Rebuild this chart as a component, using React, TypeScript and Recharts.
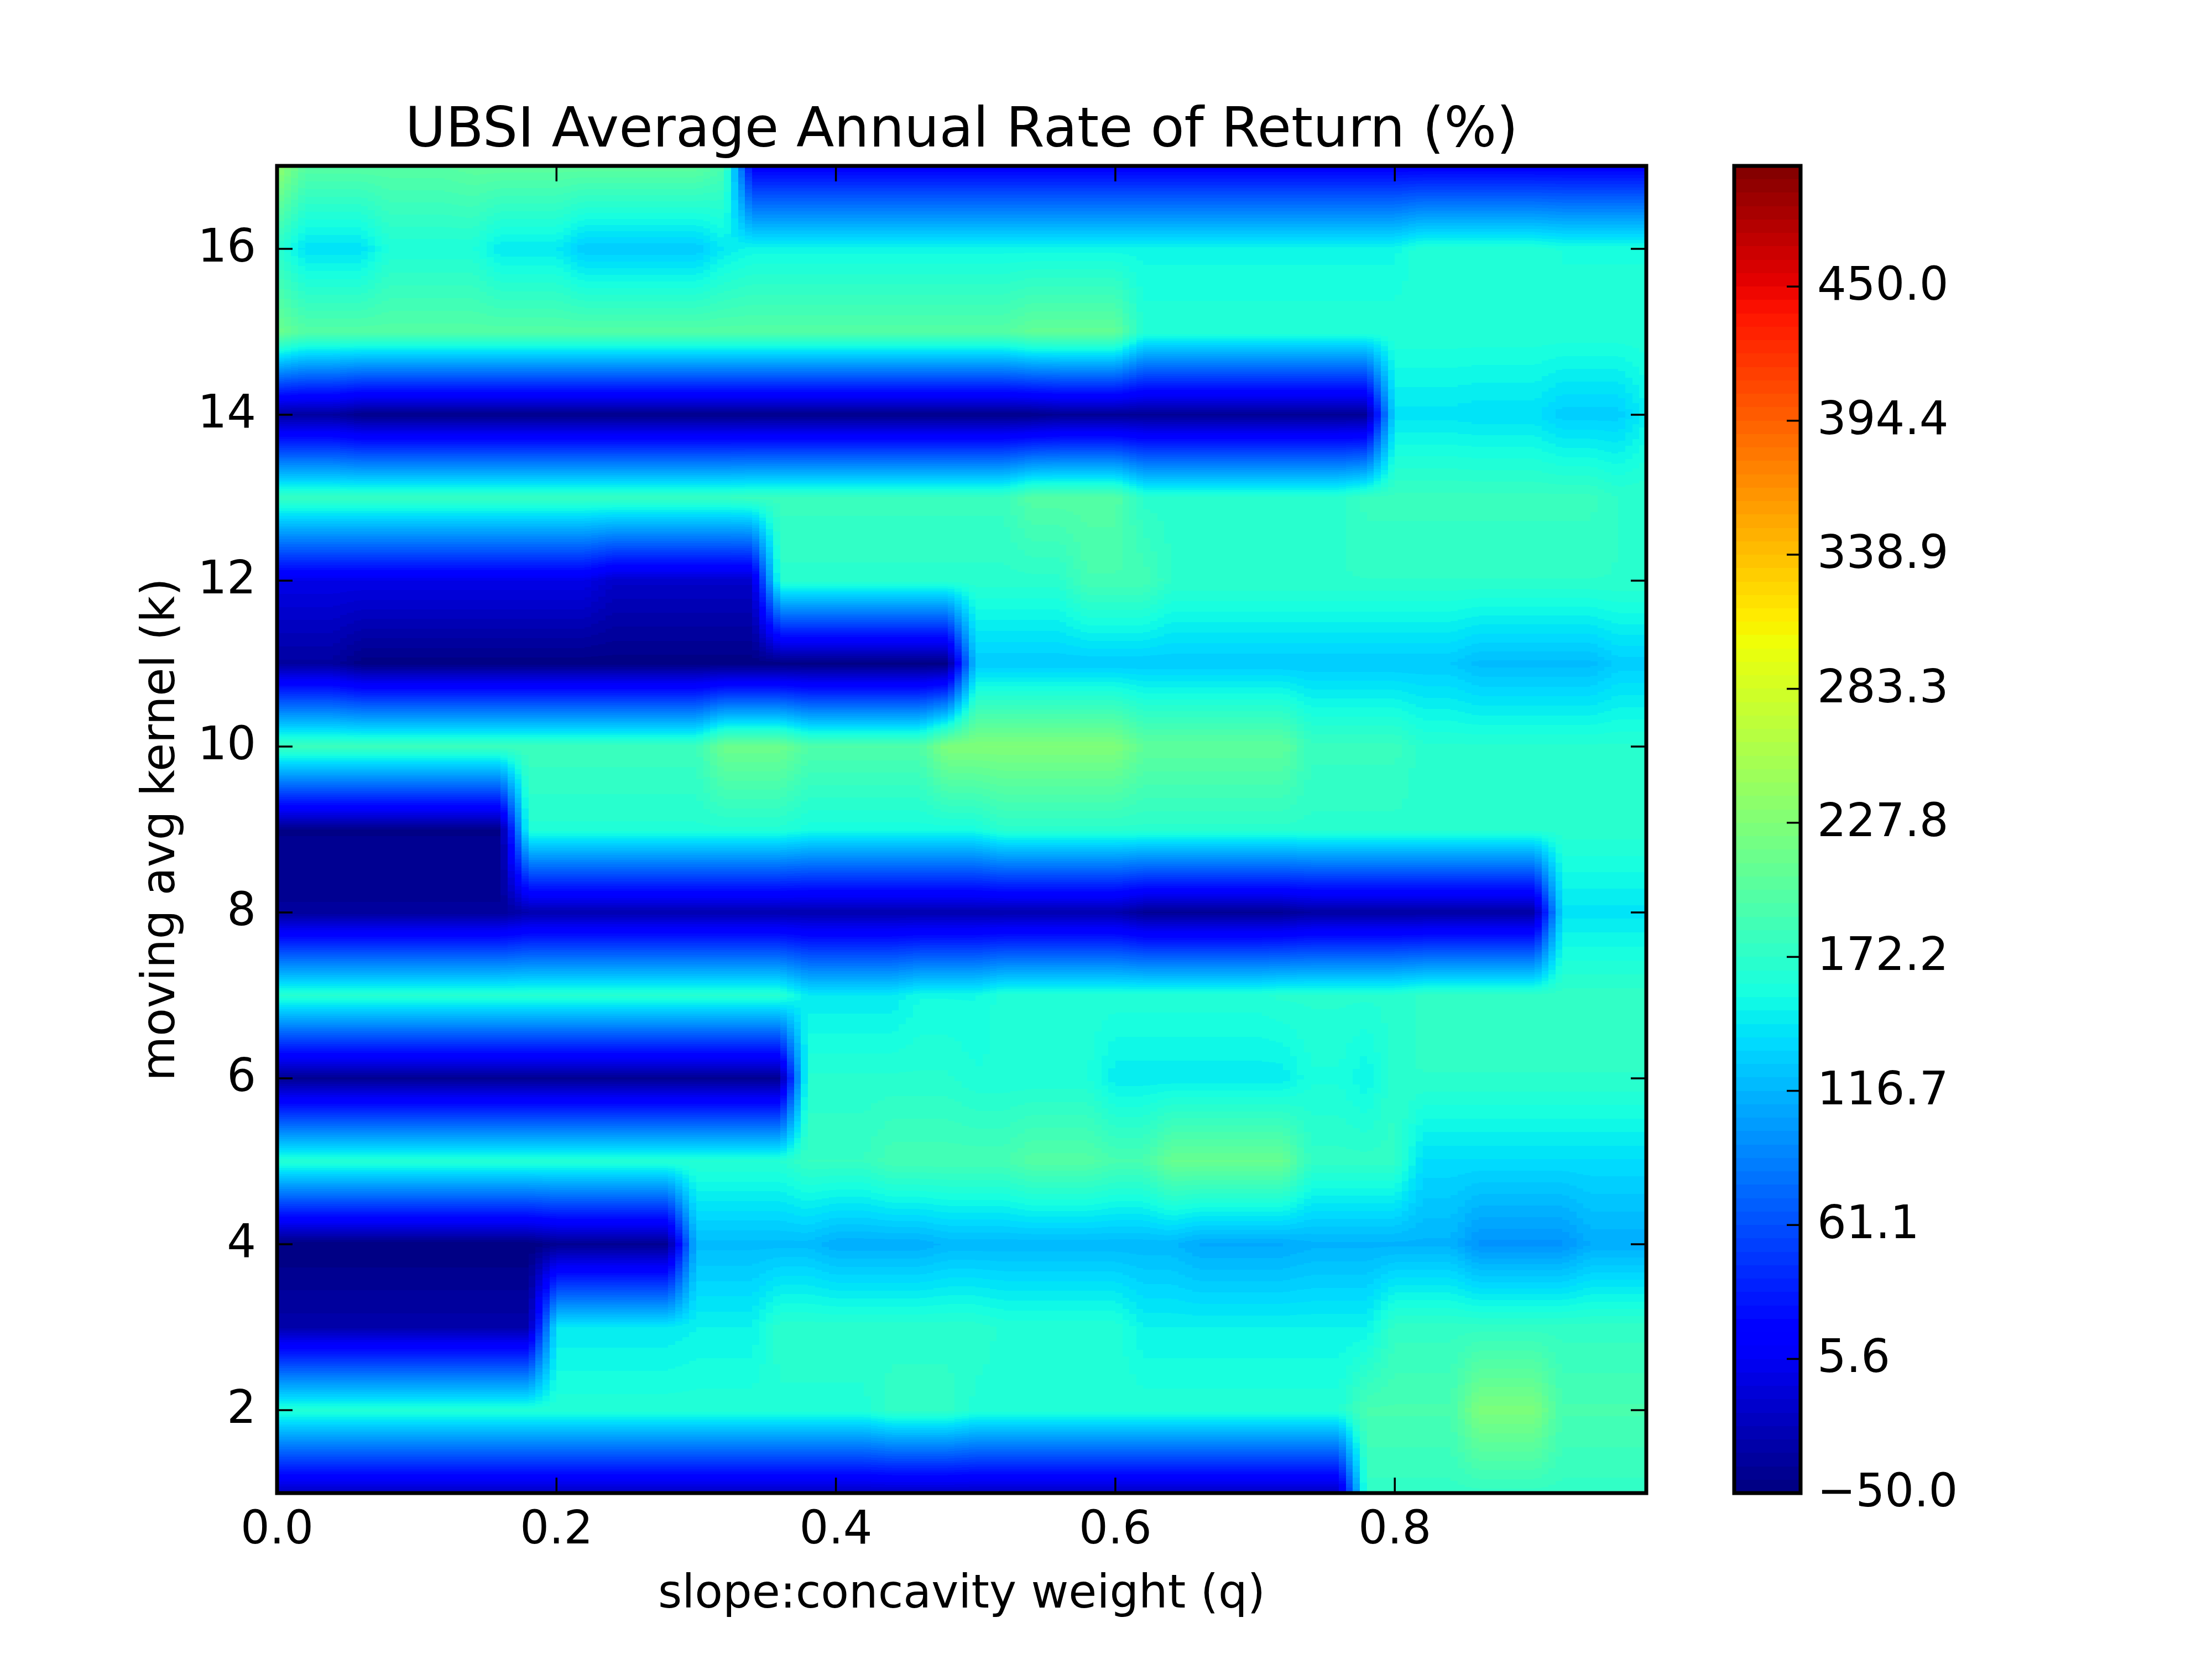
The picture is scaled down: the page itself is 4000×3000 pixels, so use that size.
import React from 'react';
import { ComposedChart, XAxis, YAxis, ReferenceArea } from 'recharts';

// ---------- data ----------
const qTicks = [0, 0.2, 0.4, 0.6, 0.8];
const qTickLabels = ['0.0', '0.2', '0.4', '0.6', '0.8'];
const kTicks = [2, 4, 6, 8, 10, 12, 14, 16];
const kTickLabels = ['2', '4', '6', '8', '10', '12', '14', '16'];
const kValues = [1, 2, 3, 4, 5, 6, 7, 8, 9, 10, 11, 12, 13, 14, 15, 16, 17];
const cbTicks = [-50, 5.6, 61.1, 116.7, 172.2, 227.8, 283.3, 338.9, 394.4, 450.0];
const cbTickLabels = ['\u221250.0', '5.6', '61.1', '116.7', '172.2', '227.8', '283.3', '338.9', '394.4', '450.0'];

// each row (k): [q up to which the value holds, annual return %]
type Seg = [number, number];
const row1: Seg[] = [[0.77, -20], [0.98, 175]];
const row2: Seg[] = [[0.43, 165], [0.49, 175], [0.77, 165], [0.85, 190], [0.91, 225], [0.98, 190]];
const row3: Seg[] = [[0.19, -30], [0.29, 145], [0.35, 150], [0.51, 170], [0.61, 165], [0.79, 150], [0.98, 175]];
const row4: Seg[] = [[0.19, -50], [0.29, -42], [0.39, 120], [0.47, 112], [0.65, 118], [0.73, 110], [0.85, 115], [0.93, 98], [0.98, 112]];
const row5: Seg[] = [[0.37, 167], [0.43, 178], [0.53, 188], [0.59, 198], [0.63, 190], [0.73, 212], [0.81, 175], [0.98, 138]];
const row6: Seg[] = [[0.37, -42], [0.49, 168], [0.59, 162], [0.73, 146], [0.77, 160], [0.79, 150], [0.98, 172]];
const row7: Seg[] = [[0.37, 168], [0.45, 145], [0.51, 155], [0.71, 165], [0.81, 168], [0.98, 175]];
const row8: Seg[] = [[0.17, -38], [0.61, -28], [0.73, -40], [0.91, -34], [0.98, 142]];
const row9: Seg[] = [[0.17, -45], [0.37, 165], [0.51, 158], [0.98, 170]];
const row10: Seg[] = [[0.31, 182], [0.37, 215], [0.47, 195], [0.61, 228], [0.73, 205], [0.81, 180], [0.98, 168]];
const row11: Seg[] = [[0.05, -35], [0.49, -48], [0.85, 128], [0.95, 120], [0.98, 130]];
const row12: Seg[] = [[0.23, 0], [0.35, -15], [0.57, 170], [0.63, 188], [0.98, 172]];
const row13: Seg[] = [[0.33, 178], [0.53, 180], [0.61, 198], [0.77, 170], [0.95, 180], [0.98, 172]];
const row14: Seg[] = [[0.05, -35], [0.55, -45], [0.79, -40], [0.85, 142], [0.91, 140], [0.97, 130], [0.98, 148]];
const row15: Seg[] = [[0.01, 215], [0.53, 198], [0.61, 208], [0.98, 166]];
const row16: Seg[] = [[0.01, 170], [0.07, 140], [0.15, 162], [0.21, 145], [0.31, 128], [0.33, 145], [0.81, 153], [0.91, 165], [0.98, 160]];
const row17: Seg[] = [[0.01, 240], [0.13, 200], [0.31, 205], [0.33, 190], [0.98, 12]];
const rows: Seg[][] = [row1, row2, row3, row4, row5, row6, row7, row8, row9, row10, row11, row12, row13, row14, row15, row16, row17];

const Q_MIN = 0;
const Q_MAX = 0.98;
const Q_STEP = 0.02; // grid spacing of the q samples
const V_MIN = -50;
const V_MAX = 500;
const LEVEL_COUNT = 100;

// ---------- layout ----------
const W = 4000;
const H = 3000;
const FONT = "'DejaVu Sans', 'Bitstream Vera Sans', sans-serif";
const TICK_FONT = 83;
const TICK_LEN = 28;
const PLOT_L = 501;
const PLOT_R = 2977;
const PLOT_T = 300;
const PLOT_B = 2700;
const CB_L = 3136;
const CB_R = 3256;
const SUBDIV = 4;

// ---------- colormap (matplotlib jet) ----------
const JET_R: number[][] = [[0, 0], [0.35, 0], [0.66, 1], [0.89, 1], [1, 0.5]];
const JET_G: number[][] = [[0, 0], [0.125, 0], [0.375, 1], [0.64, 1], [0.91, 0], [1, 0]];
const JET_B: number[][] = [[0, 0.5], [0.11, 1], [0.34, 1], [0.65, 0], [1, 0]];
function chan(pts: number[][], t: number) {
  if (t <= pts[0][0]) return pts[0][1];
  for (let i = 1; i < pts.length; i++) {
    if (t <= pts[i][0]) {
      const [x0, y0] = pts[i - 1];
      const [x1, y1] = pts[i];
      return y0 + ((t - x0) / (x1 - x0)) * (y1 - y0);
    }
  }
  return pts[pts.length - 1][1];
}
function jet(t: number) {
  const c = (v: number) => Math.round(Math.max(0, Math.min(1, v)) * 255);
  return `rgb(${c(chan(JET_R, t))},${c(chan(JET_G, t))},${c(chan(JET_B, t))})`;
}
const LEVEL_STEP = (V_MAX - V_MIN) / (LEVEL_COUNT - 1);
const levels = Array.from({ length: LEVEL_COUNT }, (_, i) => V_MIN + i * LEVEL_STEP);
function bandIndex(v: number) {
  return Math.max(0, Math.min(LEVEL_COUNT - 2, Math.floor((v - V_MIN) / LEVEL_STEP)));
}
function bandColor(i: number) {
  return jet((i + 0.5) / (LEVEL_COUNT - 1));
}

function valueAt(row: Seg[], q: number) {
  for (const s of row) if (q <= s[0] + 1e-9) return s[1];
  return row[row.length - 1][1];
}

function gradientStops(vTop: number, vBot: number) {
  const stops: { o: number; c: string }[] = [];
  const bTop = bandIndex(vTop);
  const bBot = bandIndex(vBot);
  stops.push({ o: 0, c: bandColor(bTop) });
  if (bTop !== bBot) {
    const dir = bBot > bTop ? 1 : -1;
    let cur = bTop;
    while (cur !== bBot) {
      const boundary = dir > 0 ? levels[cur + 1] : levels[cur];
      const t = (boundary - vTop) / (vBot - vTop);
      stops.push({ o: t, c: bandColor(cur) });
      cur += dir;
      stops.push({ o: t, c: bandColor(cur) });
    }
  }
  stops.push({ o: 1, c: bandColor(bBot) });
  return stops;
}

// build drawing pieces between consecutive k rows (linear along q between grid samples)
type Piece = { q1: number; q2: number; k1: number; k2: number; grad: string };
const gradMap = new Map<string, { id: string; top: number; bot: number }>();
const pieces: Piece[] = [];
const nNodes = Math.round((Q_MAX - Q_MIN) / Q_STEP) + 1;
const qNodes = Array.from({ length: nNodes }, (_, i) => +(Q_MIN + i * Q_STEP).toFixed(4));
function gradFor(vt: number, vb: number) {
  const key = `${vt}|${vb}`;
  if (!gradMap.has(key)) gradMap.set(key, { id: `hg${gradMap.size}`, top: vt, bot: vb });
  return gradMap.get(key)!.id;
}
for (let i = 0; i < rows.length - 1; i++) {
  const lower = rows[i];
  const upper = rows[i + 1];
  let cur: Piece | null = null;
  let curKey = '';
  const push = (a: number, b: number, vt: number, vb: number) => {
    const key = `${vt}|${vb}`;
    if (cur && curKey === key && Math.abs(cur.q2 - a) < 1e-9) {
      cur.q2 = b;
      return;
    }
    if (cur) pieces.push(cur);
    cur = { q1: a, q2: b, k1: kValues[i], k2: kValues[i + 1], grad: gradFor(vt, vb) };
    curKey = key;
  };
  for (let j = 0; j < qNodes.length - 1; j++) {
    const a = qNodes[j];
    const b = qNodes[j + 1];
    const lb0 = valueAt(lower, a), lb1 = valueAt(lower, b);
    const ut0 = valueAt(upper, a), ut1 = valueAt(upper, b);
    if (lb0 === lb1 && ut0 === ut1) {
      push(a, b, ut0, lb0);
    } else {
      for (let s = 0; s < SUBDIV; s++) {
        const f = (s + 0.5) / SUBDIV;
        const vb = Math.round(lb0 + (lb1 - lb0) * f);
        const vt = Math.round(ut0 + (ut1 - ut0) * f);
        push(a + ((b - a) * s) / SUBDIV, a + ((b - a) * (s + 1)) / SUBDIV, vt, vb);
      }
    }
  }
  if (cur) pieces.push(cur);
}
const gradList = Array.from(gradMap.values());

// ---------- ticks ----------
const BottomTick = (props: any) => {
  const { x, y, payload } = props;
  const idx = qTicks.indexOf(payload.value);
  return (
    <g>
      <line x1={x} y1={y} x2={x} y2={y - TICK_LEN} stroke="#000" strokeWidth={3.5} />
      <text x={x} y={y + 91} textAnchor="middle" fontFamily={FONT} fontSize={TICK_FONT} fill="#000">
        {idx >= 0 ? qTickLabels[idx] : ''}
      </text>
    </g>
  );
};
const TopTick = (props: any) => {
  const { x, y } = props;
  return <line x1={x} y1={y} x2={x} y2={y + TICK_LEN} stroke="#000" strokeWidth={3.5} />;
};
const LeftTick = (props: any) => {
  const { x, y, payload } = props;
  const idx = kTicks.indexOf(payload.value);
  return (
    <g>
      <line x1={x} y1={y} x2={x + TICK_LEN} y2={y} stroke="#000" strokeWidth={3.5} />
      <text x={x - 38} y={y + 23} textAnchor="end" fontFamily={FONT} fontSize={TICK_FONT} fill="#000">
        {idx >= 0 ? kTickLabels[idx] : ''}
      </text>
    </g>
  );
};
const RightTick = (props: any) => {
  const { x, y } = props;
  return <line x1={x} y1={y} x2={x - TICK_LEN} y2={y} stroke="#000" strokeWidth={3.5} />;
};
const CbTick = (props: any) => {
  const { x, y, payload } = props;
  const idx = cbTicks.indexOf(payload.value);
  return (
    <g>
      <line x1={x} y1={y} x2={x - 25} y2={y} stroke="#000" strokeWidth={3.5} />
      <text x={x + 30} y={y + 24} textAnchor="start" fontFamily={FONT} fontSize={TICK_FONT} fill="#000">
        {idx >= 0 ? cbTickLabels[idx] : ''}
      </text>
    </g>
  );
};

export default function App() {
  const midX = (PLOT_L + PLOT_R) / 2;
  const midY = (PLOT_T + PLOT_B) / 2;
  return (
    <div style={{ position: 'absolute', left: 0, top: 0, width: W, height: H, background: '#fff' }}>
      <div style={{ position: 'absolute', left: 0, top: 0 }}>
        <ComposedChart
          width={W}
          height={H}
          data={[]}
          margin={{ top: PLOT_T - 100, right: W - PLOT_R - 100, bottom: H - PLOT_B - 300, left: 0 }}
        >
          <defs>
            {gradList.map((g) => (
              <linearGradient key={g.id} id={g.id} x1="0" y1="0" x2="0" y2="1">
                {gradientStops(g.top, g.bot).map((s, i) => (
                  <stop key={i} offset={s.o} stopColor={s.c} />
                ))}
              </linearGradient>
            ))}
          </defs>
          {pieces.map((p, i) => (
            <ReferenceArea
              key={`p${i}`}
              x1={p.q1}
              x2={p.q2}
              y1={p.k1}
              y2={p.k2}
              fill={`url(#${p.grad})`}
              fillOpacity={1}
              stroke="none"
              shapeRendering="crispEdges"
              ifOverflow="visible"
            />
          ))}
          <ReferenceArea
            x1={Q_MIN}
            x2={Q_MAX}
            y1={1}
            y2={17}
            fill="none"
            stroke="#000"
            strokeWidth={7}
            ifOverflow="visible"
          />
          <XAxis
            type="number"
            dataKey="q"
            domain={[Q_MIN, Q_MAX]}
            allowDataOverflow
            ticks={qTicks}
            interval={0}
            height={300}
            tickSize={0}
            tickMargin={0}
            axisLine={false}
            tickLine={false}
            tick={<BottomTick />}
          />
          <XAxis
            xAxisId="top"
            orientation="top"
            type="number"
            dataKey="q"
            domain={[Q_MIN, Q_MAX]}
            allowDataOverflow
            ticks={qTicks}
            interval={0}
            height={100}
            tickSize={0}
            tickMargin={0}
            axisLine={false}
            tickLine={false}
            tick={<TopTick />}
          />
          <YAxis
            type="number"
            dataKey="k"
            domain={[1, 17]}
            allowDataOverflow
            ticks={kTicks}
            interval={0}
            width={PLOT_L}
            tickSize={0}
            tickMargin={0}
            axisLine={false}
            tickLine={false}
            tick={<LeftTick />}
          />
          <YAxis
            yAxisId="right"
            orientation="right"
            type="number"
            dataKey="k"
            domain={[1, 17]}
            allowDataOverflow
            ticks={kTicks}
            interval={0}
            width={100}
            tickSize={0}
            tickMargin={0}
            axisLine={false}
            tickLine={false}
            tick={<RightTick />}
          />
          <text x={midX} y={265} textAnchor="middle" fontFamily={FONT} fontSize={100} fill="#000">
            UBSI Average Annual Rate of Return (%)
          </text>
          <text x={midX} y={2907} textAnchor="middle" fontFamily={FONT} fontSize={TICK_FONT} fill="#000">
            slope:concavity weight (q)
          </text>
          <text
            x={315}
            y={midY}
            textAnchor="middle"
            fontFamily={FONT}
            fontSize={TICK_FONT}
            fill="#000"
            transform={`rotate(-90 315 ${midY})`}
          >
            moving avg kernel (k)
          </text>
        </ComposedChart>
      </div>
      <div style={{ position: 'absolute', left: 3000, top: 0 }}>
        <ComposedChart
          width={1000}
          height={H}
          data={[]}
          margin={{ top: PLOT_T, right: 1000 - (CB_R - 3000) - 300, bottom: H - PLOT_B, left: CB_L - 3000 }}
        >
          {levels.slice(0, LEVEL_COUNT - 1).map((lv, i) => (
            <ReferenceArea
              key={`cb${i}`}
              x1={0}
              x2={1}
              y1={lv}
              y2={levels[i + 1]}
              fill={bandColor(i)}
              fillOpacity={1}
              stroke="none"
              shapeRendering="crispEdges"
              ifOverflow="visible"
            />
          ))}
          <ReferenceArea x1={0} x2={1} y1={V_MIN} y2={V_MAX} fill="none" stroke="#000" strokeWidth={7} ifOverflow="visible" />
          <XAxis type="number" dataKey="x" domain={[0, 1]} allowDataOverflow hide />
          <YAxis
            orientation="right"
            type="number"
            dataKey="v"
            domain={[V_MIN, V_MAX]}
            allowDataOverflow
            ticks={cbTicks}
            interval={0}
            width={300}
            tickSize={0}
            tickMargin={0}
            axisLine={false}
            tickLine={false}
            tick={<CbTick />}
          />
        </ComposedChart>
      </div>
    </div>
  );
}
